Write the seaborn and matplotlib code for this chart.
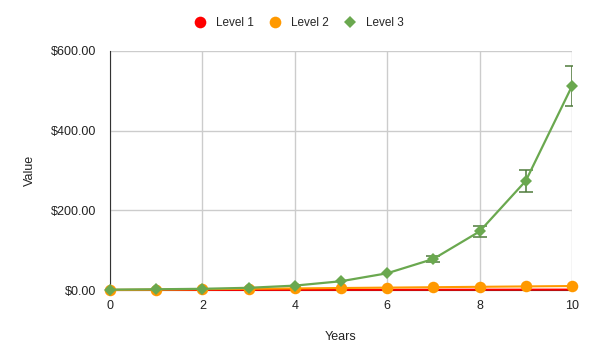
import matplotlib
matplotlib.use("Agg")
import matplotlib.pyplot as plt
import seaborn as sns
import pandas as pd
import numpy as np
from matplotlib.lines import Line2D

years = [0, 1, 2, 3, 4, 5, 6, 7, 8, 9, 10]
level1 = [0.0, 0.1, 0.2, 0.3, 0.4, 0.5, 0.6, 0.7, 0.8, 0.9, 1.0]
level2 = [0.0, 1.0, 2.0, 3.0, 4.0, 5.0, 6.0, 7.0, 8.0, 9.0, 10.0]
level3 = [1.0, 1.8, 3.0, 5.5, 11.0, 22.0, 42.0, 78.0, 147.0, 274.0, 512.0]
level3_err = [v * 0.1 for v in level3]
series = ["Level 1", "Level 2", "Level 3"]
colors = {"Level 1": "#ff0000", "Level 2": "#ff9900", "Level 3": "#6aa84f"}

df = pd.concat([
    pd.DataFrame({"Years": years, "Value": level1, "Series": "Level 1"}),
    pd.DataFrame({"Years": years, "Value": level2, "Series": "Level 2"}),
    pd.DataFrame({"Years": years, "Value": level3, "Series": "Level 3"}),
])

sns.set_style("white")
plt.rcParams['font.family'] = ['Liberation Sans', 'DejaVu Sans']

fig = plt.figure(figsize=(6, 3.61), dpi=100)
ax = fig.add_axes([110/600, 1-290/361, 462/600, 239/361])

sns.lineplot(data=df[df.Series == "Level 1"], x="Years", y="Value", color=colors["Level 1"],
             linewidth=1.5, ax=ax, clip_on=False, zorder=3, legend=False)
sns.lineplot(data=df[df.Series == "Level 2"], x="Years", y="Value", color=colors["Level 2"],
             marker="o", markersize=8.3, markeredgewidth=0,
             linewidth=1.5, ax=ax, clip_on=False, zorder=4, legend=False)
sns.lineplot(data=df[df.Series == "Level 3"], x="Years", y="Value", color=colors["Level 3"],
             marker="D", markersize=6.5, markeredgewidth=0,
             linewidth=1.6, ax=ax, clip_on=False, zorder=5, legend=False)

ax.errorbar(years[7:], level3[7:], yerr=level3_err[7:], fmt="none",
            ecolor="#4e7a3a", elinewidth=1.1, capsize=5, capthick=1.1, zorder=4.5)

ax.set_xlim(0, 10)
ax.set_ylim(0, 600)
ax.set_xticks([0, 2, 4, 6, 8, 10])
ax.set_yticks([0, 200, 400, 600])
ax.set_yticklabels(["$0.00", "$200.00", "$400.00", "$600.00"])
ax.grid(True, color="#cccccc", linewidth=1)
ax.set_axisbelow(True)
for sp in ["top", "right"]:
    ax.spines[sp].set_visible(False)
ax.spines["left"].set_color("#333333")
ax.spines["bottom"].set_color("#333333")
ax.tick_params(axis="x", length=0, labelsize=9, colors="#222222", pad=7)
ax.tick_params(axis="y", length=6, color="#cccccc", labelsize=9, labelcolor="#222222", pad=4)
ax.set_xlabel("Years", fontsize=9, color="#222222", labelpad=14)
ax.set_ylabel("Value", fontsize=9, color="#222222", labelpad=11)

handles = [
    Line2D([], [], linestyle="none", marker="o", markersize=8.4, color=colors["Level 1"], markeredgewidth=0),
    Line2D([], [], linestyle="none", marker="o", markersize=8.4, color=colors["Level 2"], markeredgewidth=0),
    Line2D([], [], linestyle="none", marker="D", markersize=5.8, color=colors["Level 3"], markeredgewidth=0),
]
ax.legend(handles, series, loc="center", bbox_to_anchor=(299/600, 1-23/361), bbox_transform=fig.transFigure,
          ncol=3, frameon=False, fontsize=8.5, handlelength=1.0, columnspacing=1.3,
          handletextpad=0.85)

fig.savefig("out.png", dpi=100)
